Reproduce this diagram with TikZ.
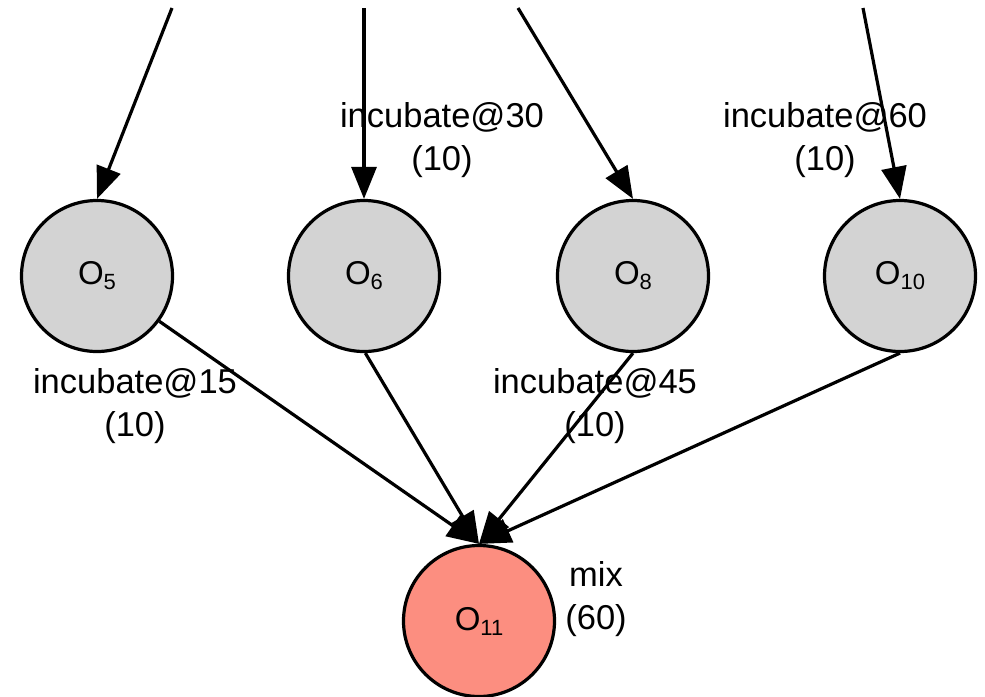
\documentclass[tikz,border=0pt]{standalone}
\usepackage{fontspec}
\setmainfont{Liberation Sans}
\usetikzlibrary{arrows.meta}
\definecolor{opgray}{HTML}{D3D3D3}
\definecolor{opsalmon}{HTML}{FC8E80}
\newcommand{\opname}[1]{\fontsize{33}{33}\selectfont O\raisebox{-5pt}{\fontsize{22}{22}\selectfont #1}}
\begin{document}
\begin{tikzpicture}[x=1pt,y=-1pt,
  opnode/.style={circle,draw=black,line width=3.2pt,minimum size=151pt,inner sep=0pt,fill=opgray},
  edgelbl/.style={align=center,inner sep=0pt,font=\fontsize{34.5}{43}\selectfont},
  flow/.style={line width=3.2pt,-{Triangle[length=32pt,width=25pt]}}]
\useasboundingbox (0,0) rectangle (985,696);

% operation nodes
\node[opnode] (n5) at (97,276) {\opname{5}};
\node[opnode] (n6) at (364,276) {\opname{6}};
\node[opnode] (n8) at (633,276) {\opname{8}};
\node[opnode] (n10) at (900,276) {\opname{10}};
\node[opnode,fill=opsalmon] (n11) at (479,621) {\opname{11}};

% incoming edges from above
\coordinate (t5) at (172,8);
\coordinate (t6) at (364,8);
\coordinate (t8) at (518,8);
\coordinate (t10) at (863,8);
\draw[flow] (t5) -- (n5.north);
\draw[flow] (t6) -- (n6.north);
\draw[flow] (t8) -- (n8.north);
\draw[flow] (t10) -- (n10.north);

% edges into the mix step
\draw[flow] (n5.-36) -- (n11.north);
\draw[flow] (n6.-89) -- (n11.north);
\draw[flow] (n8.south) -- (n11.north);
\draw[flow] (n10.south) -- (n11.north);

% labels
\node[edgelbl] (l30) at (442,140) {incubate@30\\(10)};
\node[edgelbl] (l60) at (825,140) {incubate@60\\(10)};
\node[edgelbl] (l15) at (135,406) {incubate@15\\(10)};
\node[edgelbl] (l45) at (595,406) {incubate@45\\(10)};
\node[edgelbl] (lmix) at (596,599) {mix\\(60)};
\end{tikzpicture}
\end{document}
